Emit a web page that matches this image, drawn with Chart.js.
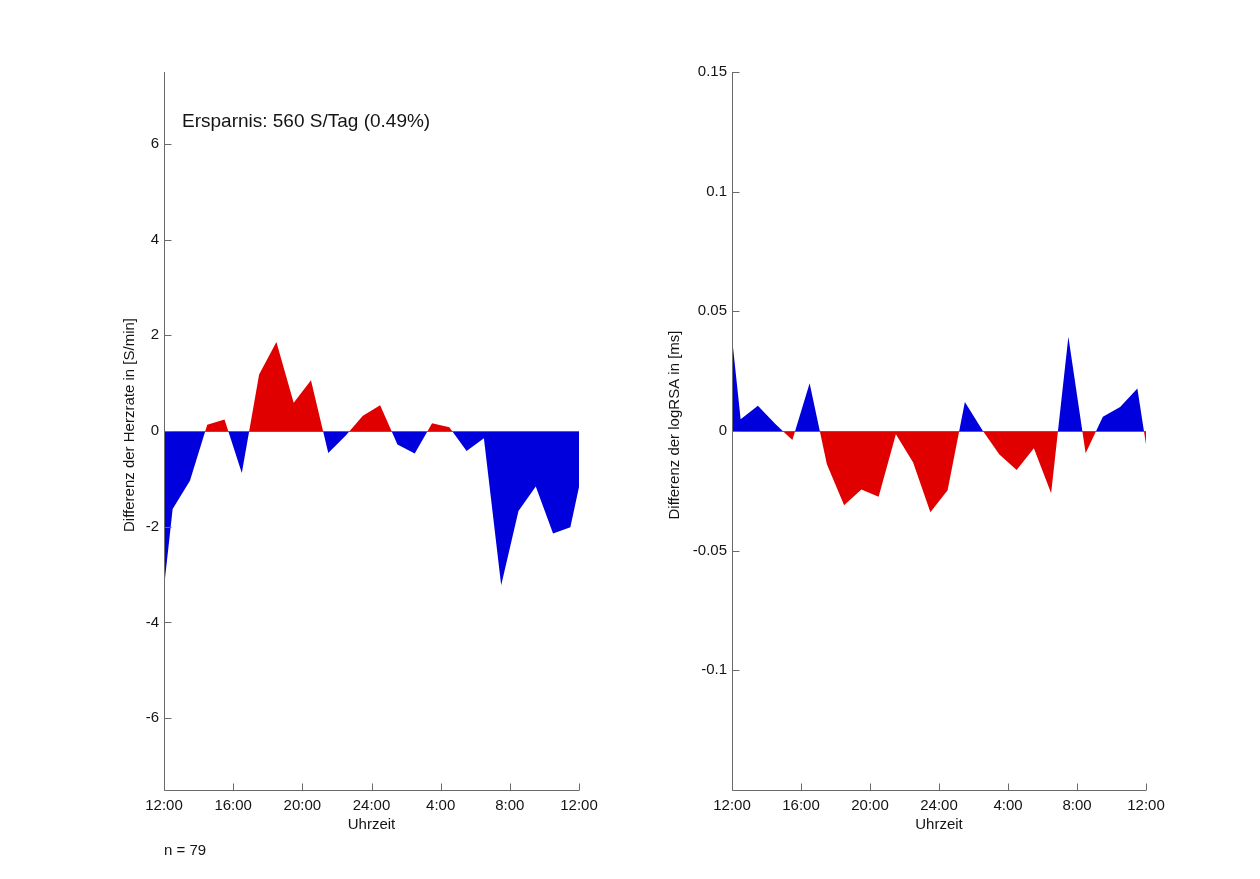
<!DOCTYPE html>
<html>
<head>
<meta charset="utf-8">
<title>Differenz der Herzrate und logRSA</title>
<script src="https://cdn.jsdelivr.net/npm/chart.js@4.4.1/dist/chart.umd.min.js"></script>
<style>
  html, body { margin: 0; padding: 0; background: #ffffff; }
  #wrap { position: relative; width: 1260px; height: 879px; overflow: hidden; }
  canvas { position: absolute; top: 0; }
  #hr { left: 0; }
  #rsa { left: 630px; }
</style>
</head>
<body>
<div id="wrap">
  <canvas id="hr" width="630" height="879"></canvas>
  <canvas id="rsa" width="630" height="879"></canvas>
</div>
<script>
// Time of day in hours after 12:00 (half-hour midpoints plus both ends)
const hours = [0, 0.5, 1.5, 2.5, 3.5, 4.5, 5.5, 6.5, 7.5, 8.5, 9.5, 10.5, 11.5,
               12.5, 13.5, 14.5, 15.5, 16.5, 17.5, 18.5, 19.5, 20.5, 21.5, 22.5, 23.5, 24];

// Difference in heart rate [S/min]
const heartRateDiff = [-3.27, -1.63, -1.04, 0.13, 0.24, -0.88, 1.18, 1.86, 0.59, 1.06, -0.46, -0.10, 0.32,
                       0.54, -0.28, -0.47, 0.16, 0.08, -0.42, -0.15, -3.22, -1.67, -1.16, -2.14, -2.01, -1.17];

// Difference in logRSA [ms]
const logRsaDiff = [0.039, 0.0049, 0.0105, 0.003, -0.0038, 0.020, -0.0139, -0.031, -0.0244, -0.0275, -0.0014, -0.0132, -0.034,
                    -0.0248, 0.0121, 0.0005, -0.0098, -0.0163, -0.0072, -0.026, 0.0394, -0.0093, 0.006, 0.010, 0.0178, -0.0056];

// Axis ticks
const timeTickValues = [0, 4, 8, 12, 16, 20, 24];
const timeTickLabels = ['12:00', '16:00', '20:00', '24:00', '4:00', '8:00', '12:00'];
const hrTicks = [-6, -4, -2, 0, 2, 4, 6];
const rsaTicks = [-0.1, -0.05, 0, 0.05, 0.1, 0.15];

const RED = '#e10000';
const BLUE = '#0000dc';
const AXIS = '#6a6a6a';
const TEXT = '#141414';
const FONT = "'Liberation Sans', Arial, sans-serif";

// Zero baseline, inward tick marks, axis lines, rotated y title and free text
const axisMarks = {
  id: 'axisMarks',
  afterDatasetsDraw(chart, args, opts) {
    const { ctx, chartArea: a, scales: { x, y } } = chart;
    ctx.save();
    const y0 = Math.round(y.getPixelForValue(0)) + 0.5;
    ctx.lineWidth = 1;
    ctx.strokeStyle = '#5a52cc';
    ctx.beginPath();
    ctx.moveTo(a.left, y0);
    ctx.lineTo(a.right, y0);
    ctx.stroke();

    ctx.strokeStyle = AXIS;
    ctx.beginPath();
    const L = Math.round(a.left) + 0.5;
    const B = Math.round(a.bottom) + 0.5;
    ctx.moveTo(L, a.top);
    ctx.lineTo(L, B);
    ctx.lineTo(a.right, B);
    x.ticks.forEach(t => {
      const px = Math.round(x.getPixelForValue(t.value)) + 0.5;
      ctx.moveTo(px, B);
      ctx.lineTo(px, B - 7);
    });
    y.ticks.forEach(t => {
      const py = Math.round(y.getPixelForValue(t.value)) + 0.5;
      ctx.moveTo(L, py);
      ctx.lineTo(L + 7, py);
    });
    ctx.stroke();

    ctx.fillStyle = TEXT;
    ctx.textBaseline = 'middle';

    // y-axis title
    ctx.save();
    ctx.font = '15px ' + FONT;
    ctx.textAlign = 'center';
    ctx.translate(opts.titleX, (a.top + a.bottom) / 2 - 6);
    ctx.rotate(-Math.PI / 2);
    ctx.fillText(opts.yTitle, 0, 0);
    ctx.restore();

    ctx.textAlign = 'left';
    (opts.notes || []).forEach(n => {
      ctx.font = n.size + 'px ' + FONT;
      ctx.fillText(n.text, a.left + n.dx, (n.fromBottom ? a.bottom : a.top) + n.dy);
    });
    ctx.restore();
  }
};

function buildChart(canvasId, values, yMin, yMax, yTicks, yTitle, posColor, negColor, frame, notes) {
  return new Chart(document.getElementById(canvasId), {
    type: 'line',
    data: {
      datasets: [{
        data: hours.map((h, i) => ({ x: h, y: values[i] })),
        borderWidth: 0,
        borderColor: 'rgba(0,0,0,0)',
        pointRadius: 0,
        tension: 0,
        fill: { target: { value: 0 }, above: posColor, below: negColor }
      }]
    },
    options: {
      responsive: false,
      animation: false,
      events: [],
      layout: { padding: { left: 0, top: 72, right: frame.right, bottom: 0 } },
      plugins: {
        legend: { display: false },
        tooltip: { enabled: false },
        axisMarks: { notes: notes, yTitle: yTitle, titleX: frame.titleX }
      },
      scales: {
        x: {
          type: 'linear',
          min: 0,
          max: 24,
          afterBuildTicks: s => { s.ticks = timeTickValues.map(v => ({ value: v })); },
          afterFit: s => { s.height = 89; },
          grid: { display: false, drawTicks: false, tickLength: 0 },
          border: { display: false },
          ticks: {
            autoSkip: false,
            maxRotation: 0,
            padding: 7,
            color: TEXT,
            font: { family: FONT, size: 15 },
            callback: (v, i) => timeTickLabels[i]
          },
          title: {
            display: true,
            text: 'Uhrzeit',
            color: TEXT,
            font: { family: FONT, size: 15 },
            padding: { top: 0, bottom: 45 }
          }
        },
        y: {
          type: 'linear',
          min: yMin,
          max: yMax,
          afterBuildTicks: s => { s.ticks = yTicks.map(v => ({ value: v })); },
          afterFit: s => { s.width = frame.left; },
          grid: { display: false, drawTicks: false, tickLength: 0 },
          border: { display: false },
          ticks: {
            padding: 5,
            color: TEXT,
            font: { family: FONT, size: 15 },
            callback: v => String(v)
          },
          title: { display: false }
        }
      }
    },
    plugins: [axisMarks]
  });
}

buildChart('hr', heartRateDiff, -7.5, 7.5, hrTicks,
  'Differenz der Herzrate in [S/min]', RED, BLUE,
  { left: 164, right: 51, titleX: 130 },
  [
    { text: 'Ersparnis: 560 S/Tag (0.49%)', size: 19, dx: 18, dy: 50 },
    { text: 'n = 79', size: 15, dx: 0, dy: 61, fromBottom: true }
  ]);

buildChart('rsa', logRsaDiff, -0.15, 0.15, rsaTicks,
  'Differenz der logRSA in [ms]', BLUE, RED,
  { left: 102, right: 114, titleX: 45 },
  []);
</script>
</body>
</html>
